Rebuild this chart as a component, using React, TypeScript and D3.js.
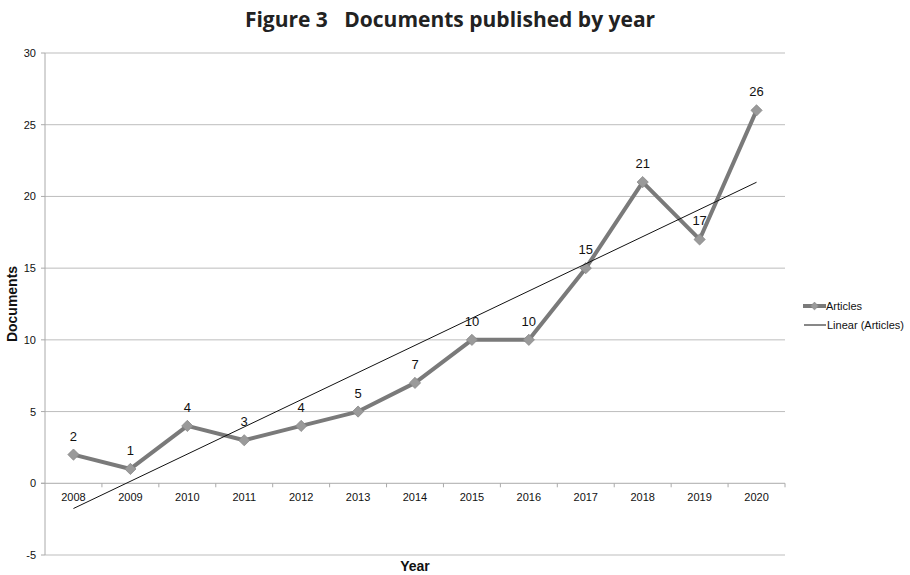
import React from "react";
import * as d3 from "d3";

const years = ["2008","2009","2010","2011","2012","2013","2014","2015","2016","2017","2018","2019","2020"];
const articles = [2, 1, 4, 3, 4, 5, 7, 10, 10, 15, 21, 17, 26];
const yTicks = [-5, 0, 5, 10, 15, 20, 25, 30];

const W = 910, H = 575;
const M = { left: 45, right: 785, top: 53, bottom: 555 };
const FONT = "Liberation Sans, Arial, sans-serif";

export default function App() {
  const x = d3.scaleBand<string>().domain(years).range([M.left, M.right]);
  const cx = (yr: string) => (x(yr) as number) + x.bandwidth() / 2;
  const y = d3.scaleLinear().domain([-5, 30]).range([M.bottom, M.top]);

  // least-squares trend over category index 1..n
  const idx = articles.map((_, i) => i + 1);
  const mx = d3.mean(idx) as number;
  const my = d3.mean(articles) as number;
  const sxy = d3.sum(idx, (v, i) => (v - mx) * (articles[i] - my));
  const sxx = d3.sum(idx, (v) => (v - mx) ** 2);
  const slope = sxy / sxx;
  const icpt = my - slope * mx;
  const trend = (i: number) => icpt + slope * (i + 1);

  const line = d3.line<number>().x((_, i) => cx(years[i])).y((d) => y(d));
  const diamond = d3.symbol().type(d3.symbolDiamond2).size(80)();

  return (
    <svg width={W} height={H} style={{ position: "absolute", left: 0, top: 0, background: "#fff" }}>
      <text x={450} y={27} textAnchor="middle" fontFamily="Open Sans, sans-serif" fontWeight={700} fontSize={21} fill="#222">
        Figure 3{"\u00a0\u00a0\u00a0"}Documents published by year
      </text>

      {yTicks.map((t) => (
        <g key={t}>
          {t !== 0 && (
            <line x1={M.left} x2={M.right} y1={y(t)} y2={y(t)} stroke="#bdbdbd" strokeWidth={1} />
          )}
          <line x1={M.left - 4} x2={M.left} y1={y(t)} y2={y(t)} stroke="#aaa" />
          <text x={M.left - 9} y={y(t) + 4} textAnchor="end" fontFamily={FONT} fontSize={11} fill="#111">
            {t}
          </text>
        </g>
      ))}
      <line x1={M.left} x2={M.left} y1={M.top} y2={M.bottom} stroke="#aaa" />
      <line x1={M.left - 4} x2={M.right} y1={y(0)} y2={y(0)} stroke="#aaa" />
      {years.map((yr) => (
        <g key={yr}>
          <line x1={(x(yr) as number) + x.bandwidth()} x2={(x(yr) as number) + x.bandwidth()} y1={y(0)} y2={y(0) + 4} stroke="#aaa" />
          <text x={cx(yr)} y={y(0) + 18} textAnchor="middle" fontFamily={FONT} fontSize={11} fill="#111">
            {yr}
          </text>
        </g>
      ))}

      <path d={line(articles) as string} fill="none" stroke="#7a7a7a" strokeWidth={4} strokeLinejoin="round" />
      {articles.map((v, i) => (
        <path key={i} d={diamond as string} transform={`translate(${cx(years[i])},${y(v)})`} fill="#9a9a9a" stroke="#888" strokeWidth={0.8} />
      ))}
      <line
        x1={cx(years[0])}
        y1={y(trend(0))}
        x2={cx(years[years.length - 1])}
        y2={y(trend(years.length - 1))}
        stroke="#111"
        strokeWidth={1}
      />
      {articles.map((v, i) => (
        <text key={i} x={cx(years[i])} y={y(v) - 14} textAnchor="middle" fontFamily={FONT} fontSize={13} fill="#111">
          {v}
        </text>
      ))}

      <text transform={`translate(17,${(M.top + M.bottom) / 2}) rotate(-90)`} textAnchor="middle" fontFamily={FONT} fontWeight={700} fontSize={14} fill="#111">
        Documents
      </text>
      <text x={(M.left + M.right) / 2} y={571} textAnchor="middle" fontFamily={FONT} fontWeight={700} fontSize={14} fill="#111">
        Year
      </text>

      <g fontFamily={FONT} fontSize={11} fill="#111">
        <line x1={803} x2={826} y1={306} y2={306} stroke="#7a7a7a" strokeWidth={4} />
        <path d={diamond as string} transform="translate(814.5,306) scale(0.7)" fill="#9a9a9a" stroke="#888" strokeWidth={0.8} />
        <text x={826} y={310}>Articles</text>
        <line x1={804} x2={826} y1={325} y2={325} stroke="#111" strokeWidth={1} />
        <text x={827} y={329}>Linear (Articles)</text>
      </g>
    </svg>
  );
}
